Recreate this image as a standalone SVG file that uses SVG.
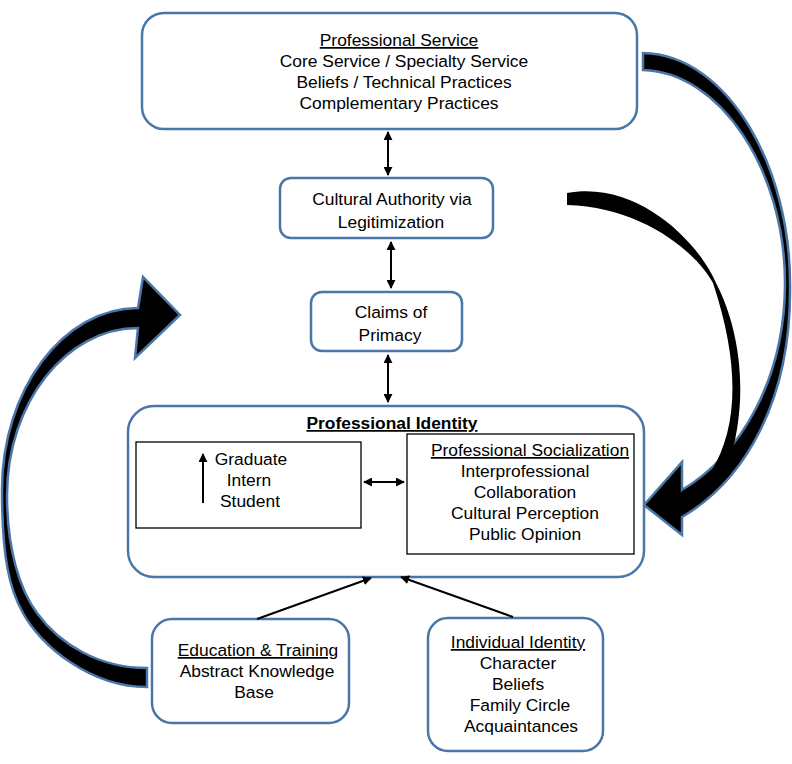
<svg xmlns="http://www.w3.org/2000/svg" width="792" height="764" viewBox="0 0 792 764">
<defs>
<style>
.box{fill:#fff;stroke:#4a76a8;stroke-width:2.5}
.inner{fill:#fff;stroke:#000;stroke-width:1.3}
.t{font-family:"Liberation Sans",Arial,sans-serif;font-size:17.4px;fill:#000;text-anchor:middle}
.u{text-decoration:underline}
.b{font-weight:bold}
.con{stroke:#000;stroke-width:2;fill:none}
.big{fill:#000;stroke:#4a76a8;stroke-width:2.5;stroke-linejoin:miter}
</style>
<marker id="ah" viewBox="0 0 10 10" refX="9" refY="5" markerWidth="4.5" markerHeight="4.5" orient="auto-start-reverse" markerUnits="strokeWidth">
<path d="M0,0 L10,5 L0,10 Z" fill="#000"/>
</marker>
</defs>
<rect width="792" height="764" fill="#fff"/>

<g id="curved-arrows">
<path id="right-arrow" class="big" d="M643 53 C730 55 790 170 790 283 C792 400 745 480 682 517 L682 535 L644 505 L682 462 L682 490 C740 455 785 380 785 283 C785 170 720 72 643 70 Z"/>
<path id="mid-arc" fill="#000" d="M567 193 C640 180 700 245 716 283 C738 325 752 395 727 470 L690 505 L682 491 C695 484 705 478 712 470 C736 430 742 370 713 283 C695 250 640 207 567 205 Z"/>
<path id="left-arrow" class="big" d="M147 668 C100 668 60 645 37 613 C20 590 7 550 7 495 C7 403 66 328 138 328 L135 358 L180 315 L143 277 L138 308 C63 308 2 390 2 490 C2 560 10 590 23 613 C40 645 90 687 147 687 Z"/>
</g>

<g id="professional-service">
<rect class="box" x="142" y="13" width="495" height="116" rx="22"/>
<text class="t u" x="399" y="46">Professional Service</text>
<text class="t" x="404" y="67">Core Service / Specialty Service</text>
<text class="t" x="404" y="88">Beliefs / Technical Practices</text>
<text class="t" x="399" y="109">Complementary Practices</text>
</g>

<g id="cultural-authority">
<rect class="box" x="280" y="178" width="213" height="60" rx="11"/>
<text class="t" x="392" y="205">Cultural Authority via</text>
<text class="t" x="391" y="228">Legitimization</text>
</g>

<g id="claims-of-primacy">
<rect class="box" x="311" y="292" width="151" height="59" rx="11"/>
<text class="t" x="391" y="318">Claims of</text>
<text class="t" x="390" y="341">Primacy</text>
</g>

<g id="professional-identity">
<rect class="box" x="128" y="406" width="516" height="171" rx="26"/>
<text class="t b u" x="392" y="429">Professional Identity</text>
</g>

<g id="career-stages">
<rect class="inner" x="136" y="442" width="225" height="86"/>
<text class="t" x="251" y="465">Graduate</text>
<text class="t" x="249" y="486">Intern</text>
<text class="t" x="250" y="507">Student</text>
</g>

<g id="professional-socialization">
<rect class="inner" x="407" y="434" width="227" height="120"/>
<text class="t u" x="530" y="456">Professional Socialization</text>
<text class="t" x="525" y="477">Interprofessional</text>
<text class="t" x="525" y="498">Collaboration</text>
<text class="t" x="525" y="519">Cultural Perception</text>
<text class="t" x="525" y="540">Public Opinion</text>
</g>

<g id="education-training">
<rect class="box" x="152" y="619" width="197" height="104" rx="20"/>
<text class="t u" x="258" y="656">Education &amp; Training</text>
<text class="t" x="257" y="677">Abstract Knowledge</text>
<text class="t" x="254" y="698">Base</text>
</g>

<g id="individual-identity">
<rect class="box" x="428" y="618" width="175" height="133" rx="20"/>
<text class="t u" x="518" y="648">Individual Identity</text>
<text class="t" x="518" y="669">Character</text>
<text class="t" x="518" y="690">Beliefs</text>
<text class="t" x="520" y="711">Family Circle</text>
<text class="t" x="521" y="732">Acquaintances</text>
</g>

<g id="connectors">
<line class="con" x1="388" y1="132" x2="388" y2="175" marker-start="url(#ah)" marker-end="url(#ah)"/>
<line class="con" x1="391" y1="242" x2="391" y2="288" marker-start="url(#ah)" marker-end="url(#ah)"/>
<line class="con" x1="388" y1="355" x2="388" y2="402" marker-start="url(#ah)" marker-end="url(#ah)"/>
<line class="con" x1="364" y1="482" x2="404" y2="482" marker-start="url(#ah)" marker-end="url(#ah)"/>
<line class="con" x1="203" y1="503" x2="203" y2="454" marker-end="url(#ah)"/>
<line class="con" x1="257" y1="619" x2="371" y2="578" marker-end="url(#ah)"/>
<line class="con" x1="513" y1="617" x2="401" y2="577" marker-end="url(#ah)"/>
</g>
</svg>
